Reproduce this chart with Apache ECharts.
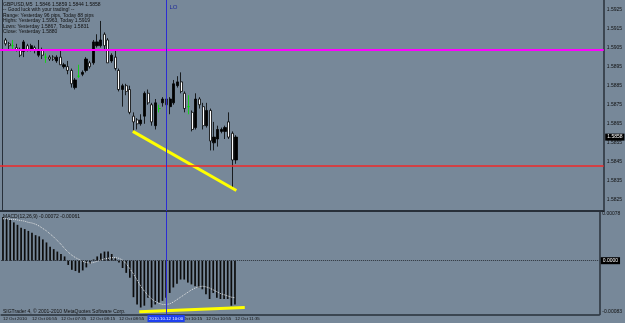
<!DOCTYPE html>
<html><head><meta charset="utf-8">
<script src="https://cdn.jsdelivr.net/npm/echarts@6/dist/echarts.min.js"></script>
<style>html,body{margin:0;padding:0;background:#778899;}#c{width:625px;height:323px;}</style>
</head><body><div id="c"></div>
<script>
// ---------- text ----------
const headerLines = [
  'GBPUSD,M5  1.5846 1.5859 1.5844 1.5858',
  '-- Good luck with your trading! --',
  'Range: Yesterday 96 pips, Today 88 pips',
  'Highs: Yesterday 1.5963, Today 1.5919',
  'Lows: Yesterday 1.5867, Today 1.5831',
  'Close: Yesterday 1.5880'
];
const macdLegend = 'MACD(12,26,9) -0.00072 -0.00061';
const copyrightText = 'SIGTrader 4, \u00a9 2001-2010 MetaQuotes Software Corp.';

// ---------- time slots (5-minute bars, slot 0 = 06:15) ----------
const slotCount = 165;
const slotNames = [];
for (let j = 0; j < slotCount; j++) {
  const m = 6 * 60 + 15 + 5 * j;
  slotNames.push(String(Math.floor(m / 60)).padStart(2, '0') + ':' + String(m % 60).padStart(2, '0'));
}
const timeLabelSlots = [0, 8, 16, 24, 32, 40, 48, 56, 64];
const timeLabelTexts = ['12 Oct 2010', '12 Oct 06:55', '12 Oct 07:35', '12 Oct 08:15', '12 Oct 08:55',
  '12 Oct 09:35', '12 Oct 10:15', '12 Oct 10:55', '12 Oct 11:35'];

// ---------- price candles (slot 0 has no candle) ----------
const openP  = [null,1.5909,1.5907,1.5906,1.5905,1.5904,1.5903,1.5906,1.5904,1.5905,1.5901,1.5904,1.5900,1.5900,1.5900,1.5898,1.5900,1.5895,1.5895,1.5893,1.5884,1.5890,1.5891,1.5893,1.5897,1.5897,1.5906,1.5906,1.5912,1.5909,1.5898,1.5900,1.5893,1.5883,1.5885,1.5883,1.5869,1.5867,1.5865,1.5869,1.5881,1.5875,1.5864,1.5873,1.5876,1.5878,1.5874,1.5876,1.5885,1.5887,1.5881,1.5874,1.5871,1.5863,1.5878,1.5874,1.5864,1.5872,1.5855,1.5857,1.5861,1.5861,1.5866,1.5860,1.5846];
const closeP = [null,1.5907,1.5906,1.5906,1.5904,1.5901,1.5908,1.5904,1.5906,1.5904,1.5904,1.5901,1.5900,1.5899,1.5899,1.5900,1.5896,1.5896,1.5893,1.5886,1.5888,1.5890,1.5892,1.5899,1.5895,1.5908,1.5908,1.5909,1.5906,1.5897,1.5901,1.5894,1.5883,1.5885,1.5882,1.5871,1.5866,1.5865,1.5867,1.5881,1.5876,1.5866,1.5876,1.5873,1.5878,1.5875,1.5878,1.5886,1.5887,1.5882,1.5873,1.5874,1.5862,1.5878,1.5875,1.5864,1.5872,1.5856,1.5858,1.5862,1.5862,1.5863,1.5858,1.5846,1.5858];
const lowP   = [null,1.5906,1.5904,1.5904,1.5903,1.5900,1.5900,1.5903,1.5903,1.5902,1.5900,1.5899,1.5897,1.5898,1.5898,1.5897,1.5896,1.5894,1.5891,1.5884,1.5883,1.5889,1.5890,1.5892,1.5894,1.5896,1.5905,1.5905,1.5904,1.5897,1.5897,1.5893,1.5882,1.5874,1.5880,1.5870,1.5861,1.5862,1.5864,1.5865,1.5875,1.5864,1.5862,1.5871,1.5874,1.5874,1.5870,1.5875,1.5884,1.5881,1.5871,1.5870,1.5861,1.5862,1.5873,1.5862,1.5863,1.5851,1.5851,1.5853,1.5860,1.5857,1.5857,1.5831,1.5844];
const highP  = [null,1.5910,1.5908,1.5909,1.5907,1.5905,1.5909,1.5907,1.5907,1.5906,1.5909,1.5905,1.5902,1.5901,1.5901,1.5901,1.5904,1.5897,1.5898,1.5894,1.5889,1.5896,1.5893,1.5900,1.5898,1.5909,1.5912,1.5919,1.5913,1.5910,1.5902,1.5904,1.5894,1.5886,1.5886,1.5885,1.5871,1.5868,1.5870,1.5882,1.5883,1.5876,1.5878,1.5875,1.5879,1.5879,1.5879,1.5888,1.5890,1.5892,1.5882,1.5880,1.5872,1.5881,1.5879,1.5876,1.5876,1.5873,1.5866,1.5864,1.5863,1.5864,1.5871,1.5861,1.5859];

// ---------- MACD(12,26,9) ----------
const macdMain = [0.00072,0.00069,0.00067,0.00063,0.00059,0.00054,0.00052,0.00049,0.00046,0.00042,0.00040,0.00035,0.00030,0.00023,0.00019,0.00015,0.00011,0.00007,-0.00007,-0.00015,-0.00017,-0.00020,-0.00016,-0.00011,-0.00005,0.00002,0.00007,0.00012,0.00015,0.00015,0.00011,0.00004,-0.00003,-0.00012,-0.00020,-0.00028,-0.00060,-0.00072,-0.00077,-0.00074,-0.00061,-0.00077,-0.00072,-0.00069,-0.00066,-0.00061,-0.00053,-0.00044,-0.00038,-0.00031,-0.00031,-0.00036,-0.00039,-0.00042,-0.00044,-0.00047,-0.00055,-0.00063,-0.00053,-0.00061,-0.00063,-0.00063,-0.00063,-0.00074,-0.00072];
const macdSignal = [0.00069,0.00069,0.00068,0.00068,0.00067,0.00066,0.00065,0.00063,0.00062,0.00060,0.00057,0.00053,0.00049,0.00044,0.00039,0.00033,0.00027,0.00020,0.00014,0.00009,0.00005,0.00002,-0.00001,-0.00003,-0.00004,-0.00003,-0.00001,0.00001,0.00003,0.00004,0.00005,0.00005,0.00004,0.00001,-0.00005,-0.00013,-0.00022,-0.00032,-0.00042,-0.00050,-0.00057,-0.00063,-0.00067,-0.00070,-0.00072,-0.00072,-0.00071,-0.00068,-0.00064,-0.00060,-0.00056,-0.00052,-0.00048,-0.00045,-0.00043,-0.00042,-0.00043,-0.00045,-0.00048,-0.00051,-0.00054,-0.00056,-0.00058,-0.00060,-0.00061];

// ---------- axis ticks / levels / drawn objects ----------
const priceTicks = [1.5925,1.5915,1.5905,1.5895,1.5885,1.5875,1.5865,1.5855,1.5845,1.5835,1.5825];
const macdTicks = [0.00078, -0.00083];
const priceRange = [1.58192, 1.59300];
const macdRange = [-0.000885, 0.000801];
const magentaLevel = 1.5904;
const redLevel = 1.5843;
const lastPrice = 1.5858;
const crossSlot = 45;
const crossLabel = '2010.10.12 10:00';
const vlineName = 'LO';
const priceTrendX = [35.8, 64.1];
const priceTrendY = [1.5861, 1.5830];
const macdTrendX = [37.6, 66.7];
const macdTrendY = [-0.00084, -0.00077];

// ---------- build ----------
const DOJI = '#00e000';
const candleData = openP.map((o, j) => {
  if (o === null) return ['-', '-', '-', '-'];
  const item = { value: [o, closeP[j], lowP[j], highP[j]] };
  if (o === closeP[j]) item.itemStyle = { color: DOJI, color0: DOJI, borderColor: DOJI, borderColor0: DOJI, borderColorDoji: DOJI };
  return item;
});
const priceTrend = priceTrendX.map((x, k) => [x, priceTrendY[k]]);
const macdTrend = macdTrendX.map((x, k) => [x, macdTrendY[k]]);

const FONT = 'Liberation Sans, Arial, sans-serif';
const TXT = '#101010';
const FRAME = '#28303a';
const small = { fontSize: 5, color: TXT, fontFamily: FONT, fontWeight: 'normal' };

const option = {
  backgroundColor: '#778899',
  animation: false,
  title: [
    { text: headerLines.join('\n'), left: 3, top: 1.5, padding: 0, textStyle: Object.assign({ lineHeight: 5.5 }, small) },
    { text: macdLegend, left: 3, top: 214.5, padding: 0, textStyle: Object.assign({ lineHeight: 5 }, small) },
    { text: copyrightText, left: 3, top: 309, padding: 0, textStyle: Object.assign({ lineHeight: 5 }, small) }
  ],
  grid: [
    { left: -0.55, top: 0, width: 607.85, height: 211 },
    { left: -0.55, top: 212, width: 607.85, height: 102.5 }
  ],
  xAxis: [
    { type: 'category', gridIndex: 0, data: slotNames, boundaryGap: true,
      axisLine: { show: true, onZero: false, lineStyle: { color: FRAME, width: 2 } },
      axisTick: { show: false }, axisLabel: { show: false }, splitLine: { show: false } },
    { type: 'category', gridIndex: 1, data: slotNames, boundaryGap: true,
      axisLine: { show: true, onZero: false, lineStyle: { color: FRAME, width: 1.5 } },
      axisTick: { show: false }, splitLine: { show: false },
      axisLabel: { show: true, interval: (i) => timeLabelSlots.includes(i),
        formatter: (v, i) => { const k = timeLabelSlots.indexOf(i); return k >= 0 ? timeLabelTexts[k] : ''; },
        align: 'left', margin: 2, fontSize: 4.4, color: TXT, fontFamily: FONT } },
    { type: 'value', gridIndex: 0, min: -0.5, max: slotCount - 0.5, show: false },
    { type: 'value', gridIndex: 1, min: -0.5, max: slotCount - 0.5, show: false }
  ],
  yAxis: [
    { type: 'value', gridIndex: 0, position: 'right', min: priceRange[0], max: priceRange[1],
      splitLine: { show: false }, axisTick: { show: false },
      axisLine: { show: true, onZero: false, lineStyle: { color: FRAME, width: 1.5 } },
      axisLabel: { customValues: priceTicks, formatter: (v) => v.toFixed(4), margin: 3, fontSize: 5, color: TXT, fontFamily: FONT } },
    { type: 'value', gridIndex: 1, position: 'right', min: macdRange[0], max: macdRange[1],
      splitLine: { show: false }, axisTick: { show: false },
      axisLine: { show: true, onZero: false, lineStyle: { color: FRAME, width: 1.5 } },
      axisLabel: { customValues: macdTicks, formatter: (v) => v.toFixed(5), margin: 3, fontSize: 5, color: TXT, fontFamily: FONT } },
    { type: 'value', gridIndex: 0, position: 'left', offset: -2, min: priceRange[0], max: priceRange[1],
      splitLine: { show: false }, axisTick: { show: false }, axisLabel: { show: false },
      axisLine: { show: true, onZero: false, lineStyle: { color: FRAME, width: 1 } } }
  ],
  series: [
    { type: 'candlestick', xAxisIndex: 0, yAxisIndex: 0, data: candleData, barWidth: 2.6,
      itemStyle: { color: '#000000', color0: '#ffffff', borderColor: '#000000', borderColor0: '#000000', borderColorDoji: DOJI, borderWidth: 0.8 },
      markLine: { silent: true, symbol: 'none', animation: false, z: 10, precision: 6,
        data: [
          { yAxis: magentaLevel, lineStyle: { color: '#ff00ff', width: 2, type: 'solid' }, label: { show: false } },
          { yAxis: redLevel, lineStyle: { color: '#f02828', width: 1.6, type: 'solid' }, label: { show: false } },
          { xAxis: crossSlot, lineStyle: { color: '#2c2cd4', width: 1, type: 'solid' }, label: { show: false } },
          { yAxis: lastPrice, lineStyle: { color: 'rgba(0,0,0,0)', width: 0 },
            label: { show: true, position: 'end', distance: 1.5, formatter: () => lastPrice.toFixed(4),
              backgroundColor: '#000', color: '#fff', opacity: 1, padding: [1, 2], fontSize: 5, fontFamily: FONT } }
        ] },
      markPoint: { silent: true, symbolSize: 0, animation: false,
        data: [{ coord: [crossSlot, 1.5926], label: { show: true, position: 'right', distance: 3, formatter: vlineName,
          color: '#1e2a9a', fontSize: 6, fontFamily: FONT } }] }
    },
    { type: 'line', xAxisIndex: 2, yAxisIndex: 0, data: priceTrend, symbol: 'none', silent: true,
      lineStyle: { color: '#ffff00', width: 3 }, z: 5 },
    { type: 'bar', xAxisIndex: 1, yAxisIndex: 1, data: macdMain, barWidth: 1.7,
      itemStyle: { color: '#0c0c0c' },
      markLine: { silent: true, symbol: 'none', animation: false, z: 10, precision: 6,
        data: [
          { yAxis: 0, lineStyle: { color: '#2c323a', width: 1, type: 'dotted' },
            label: { show: true, position: 'end', distance: 1.5, formatter: '0.0000',
              backgroundColor: '#000', color: '#fff', padding: [1, 2], fontSize: 5, fontFamily: FONT } },
          { xAxis: crossSlot, lineStyle: { color: '#2c2cd4', width: 1, type: 'solid' },
            label: { show: true, position: 'start', distance: 0.5, formatter: crossLabel,
              backgroundColor: '#1e40f0', color: '#fff', padding: [1.5, 1.5], fontSize: 4.4, fontFamily: FONT } }
        ] } },
    { type: 'line', xAxisIndex: 1, yAxisIndex: 1, data: macdSignal, symbol: 'none', silent: true,
      lineStyle: { color: '#e4e4e4', width: 1, type: 'dotted' } },
    { type: 'line', xAxisIndex: 3, yAxisIndex: 1, data: macdTrend, symbol: 'none', silent: true, clip: false,
      lineStyle: { color: '#ffff00', width: 3 }, z: 5 }
  ]
};
const chart = echarts.init(document.getElementById('c'), null, { renderer: 'canvas' });
chart.setOption(option);
</script></body></html>
